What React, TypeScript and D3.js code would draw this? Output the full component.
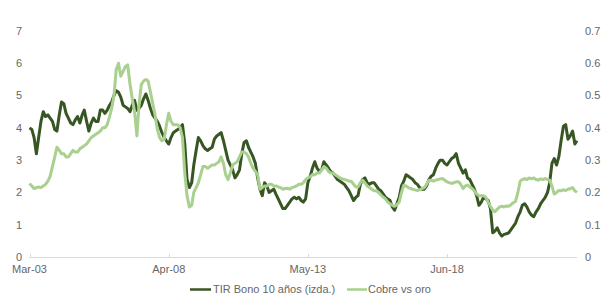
import React from "react";
import * as d3 from "d3";

// Monthly samples starting Mar-2003
const startDate = "2003-03-01";

const tirBono: number[] = [
  4.0, 3.95, 3.7, 3.2, 3.7, 4.2, 4.5, 4.35, 4.4, 4.3,
  4.2, 3.95, 3.9, 4.4, 4.8, 4.75, 4.45, 4.3, 4.15, 4.1,
  4.25, 4.35, 4.15, 4.4, 4.55, 4.2, 3.9, 4.15, 4.3, 4.2,
  4.2, 4.55, 4.55, 4.45, 4.55, 4.7, 4.8, 5.0, 5.15, 5.1,
  4.95, 4.7, 4.65, 4.6, 4.5, 4.7, 4.85, 4.55, 4.6, 4.7,
  4.9, 5.05, 4.85, 4.6, 4.4, 4.3, 4.2, 4.05, 3.85, 3.7,
  3.6, 3.5, 3.7, 3.85, 3.9, 3.95, 4.0, 4.1, 3.5, 2.4,
  2.15, 2.3, 2.85, 3.3, 3.7, 3.6, 3.45, 3.35, 3.3, 3.35,
  3.4, 3.65, 3.75, 3.8, 3.85, 3.6, 3.3, 3.0, 2.85, 2.7,
  2.45, 2.55, 2.7, 3.2, 3.55, 3.6, 3.4, 3.25, 3.1, 2.9,
  2.45, 2.1, 1.9, 2.3, 2.2, 2.0, 2.05, 2.1, 1.95, 1.8,
  1.65, 1.5, 1.5, 1.6, 1.7, 1.8, 1.85, 1.8, 1.85, 1.75,
  1.7, 1.8, 2.3, 2.5, 2.75, 2.95, 2.75, 2.65, 2.7, 2.95,
  2.85, 2.75, 2.65, 2.6, 2.5, 2.4, 2.35, 2.3, 2.25, 2.15,
  2.05, 1.9, 1.75, 1.85, 1.9, 2.25, 2.4, 2.45, 2.3, 2.25,
  2.3, 2.3, 2.2, 2.1, 2.05, 1.95, 1.85, 1.8, 1.75, 1.55,
  1.45, 1.65, 1.85, 2.2, 2.35, 2.55, 2.5, 2.45, 2.4, 2.3,
  2.25, 2.15, 2.1, 2.1, 2.2, 2.4, 2.5, 2.55, 2.75, 2.9,
  3.0, 3.0, 2.9, 2.85, 2.95, 3.05, 3.1, 3.2, 2.9, 2.75,
  2.6, 2.7, 2.45, 2.4, 2.25, 2.1, 1.9, 1.6, 1.7, 1.85,
  1.8, 1.75, 1.5, 0.75, 0.8, 0.9, 0.75, 0.65, 0.7, 0.72,
  0.75, 0.85, 0.95, 1.05, 1.25, 1.4, 1.6, 1.65, 1.55, 1.4,
  1.3, 1.25, 1.4, 1.5, 1.65, 1.75, 1.85, 2.0, 2.3, 2.9,
  3.05, 2.85, 3.1, 3.6, 4.05, 4.1, 3.65, 3.75, 3.9, 3.5,
  3.6,
];

const cobreOro: number[] = [
  0.228, 0.22, 0.212, 0.215, 0.217, 0.215, 0.22, 0.225, 0.235, 0.25,
  0.28, 0.31, 0.34, 0.33, 0.32, 0.32, 0.31, 0.31, 0.32, 0.33,
  0.325, 0.325, 0.335, 0.34, 0.345, 0.35, 0.36, 0.37, 0.375, 0.38,
  0.385, 0.39, 0.4, 0.4, 0.41, 0.435, 0.46, 0.5, 0.58, 0.6,
  0.56, 0.575, 0.59, 0.595, 0.535, 0.49, 0.45, 0.375, 0.47, 0.535,
  0.545, 0.55, 0.545, 0.51, 0.475, 0.44, 0.395, 0.37, 0.36, 0.365,
  0.41, 0.445, 0.42, 0.41, 0.41, 0.41, 0.4, 0.37, 0.26, 0.19,
  0.155, 0.16, 0.2, 0.215, 0.23, 0.255, 0.28, 0.28, 0.275, 0.28,
  0.285, 0.285, 0.29, 0.295, 0.31, 0.29, 0.255, 0.24, 0.26, 0.285,
  0.29, 0.295, 0.31, 0.325, 0.325, 0.32, 0.31, 0.29, 0.275, 0.265,
  0.255, 0.21, 0.215, 0.22, 0.22, 0.225, 0.225, 0.22, 0.22, 0.217,
  0.215, 0.21, 0.212, 0.213, 0.21, 0.215, 0.217, 0.22, 0.225, 0.225,
  0.23, 0.24, 0.245, 0.248, 0.255, 0.255, 0.26, 0.26, 0.27, 0.28,
  0.275, 0.265, 0.26, 0.26, 0.255, 0.25, 0.245, 0.242, 0.24, 0.238,
  0.235, 0.235, 0.225, 0.217, 0.217, 0.23, 0.238, 0.23, 0.22, 0.215,
  0.21, 0.205, 0.205, 0.2, 0.192, 0.185, 0.18, 0.17, 0.165, 0.16,
  0.157, 0.162, 0.17, 0.2, 0.222, 0.22, 0.215, 0.212, 0.21, 0.208,
  0.206, 0.208, 0.212, 0.215, 0.225, 0.238, 0.238, 0.235, 0.238, 0.24,
  0.242, 0.243, 0.238, 0.233, 0.23, 0.228, 0.23, 0.233, 0.233, 0.225,
  0.212, 0.22, 0.223, 0.217, 0.212, 0.205, 0.195, 0.19, 0.19, 0.19,
  0.185, 0.17, 0.157, 0.145, 0.14, 0.148, 0.155, 0.157, 0.155, 0.158,
  0.157, 0.162, 0.168, 0.172, 0.2, 0.235, 0.24, 0.243, 0.24, 0.245,
  0.242, 0.245, 0.24, 0.238, 0.242, 0.24, 0.243, 0.24, 0.238, 0.22,
  0.195, 0.2, 0.206, 0.205, 0.208, 0.206, 0.21, 0.212, 0.215, 0.205,
  0.2,
];

const leftTicks = [0, 1, 2, 3, 4, 5, 6, 7];
const rightTicks = [0, 0.1, 0.2, 0.3, 0.4, 0.5, 0.6, 0.7];
const xTickIndices = [0, 61, 122, 183];
const xTickLabels = ["Mar-03", "Apr-08", "May-13", "Jun-18"];
const seriesNames = ["TIR Bono 10 años (izda.)", "Cobre vs oro"];

const W = 610;
const H = 300;
const DARK = "#375623";
const LIGHT = "#A9D08E";
const TEXT = "#666666";
const FONT = "'Liberation Sans', Arial, sans-serif";

export default function App() {
  const n = tirBono.length;
  const dates = d3.range(n).map((i) => d3.timeMonth.offset(new Date(startDate), i));
  const x = d3.scaleTime().domain([dates[0], dates[n - 1]]).range([29.5, 577]);
  const yL = d3.scaleLinear().domain([0, 7]).range([257, 31]);
  const yR = d3.scaleLinear().domain([0, 0.7]).range([257, 31]);

  const darkLine = d3
    .line<number>()
    .x((_, i) => x(dates[i]))
    .y((d) => yL(d));
  const lightLine = d3
    .line<number>()
    .x((_, i) => x(dates[i]))
    .y((d) => yR(d));

  return (
    <svg
      width={W}
      height={H}
      style={{ position: "absolute", left: 0, top: 0, background: "#fff" }}
      fontFamily={FONT}
    >
      <rect x={0} y={0} width={W} height={H} fill="#fff" />
      <line x1={29.5} x2={577} y1={257.5} y2={257.5} stroke="#D9D9D9" strokeWidth={1} />
      {xTickIndices.map((ti) => (
        <line
          key={"t" + ti}
          x1={Math.round(x(dates[ti])) + 0.5}
          x2={Math.round(x(dates[ti])) + 0.5}
          y1={254}
          y2={257}
          stroke="#D9D9D9"
        />
      ))}
      {leftTicks.map((t) => (
        <text key={"l" + t} x={22} y={yL(t)} dy="0.35em" textAnchor="end" fontSize={11} fill={TEXT}>
          {t}
        </text>
      ))}
      {rightTicks.map((t) => (
        <text key={"r" + t} x={585} y={yR(t)} dy="0.35em" textAnchor="start" fontSize={11} fill={TEXT}>
          {t === 0 ? "0" : t.toFixed(1)}
        </text>
      ))}
      {xTickIndices.map((ti, k) => (
        <text key={"x" + ti} x={x(dates[ti])} y={273} textAnchor="middle" fontSize={11} fill={TEXT}>
          {xTickLabels[k]}
        </text>
      ))}
      <path d={darkLine(tirBono) || ""} fill="none" stroke={DARK} strokeWidth={3} strokeLinejoin="round" />
      <path d={lightLine(cobreOro) || ""} fill="none" stroke={LIGHT} strokeWidth={3} strokeLinejoin="round" />
      <line x1={190} x2={211} y1={289.5} y2={289.5} stroke={DARK} strokeWidth={2.5} />
      <text x={213} y={293} fontSize={11} fill={TEXT}>
        {seriesNames[0]}
      </text>
      <line x1={347} x2={367} y1={289.5} y2={289.5} stroke={LIGHT} strokeWidth={2.5} />
      <text x={368} y={293} fontSize={11} fill={TEXT}>
        {seriesNames[1]}
      </text>
    </svg>
  );
}
